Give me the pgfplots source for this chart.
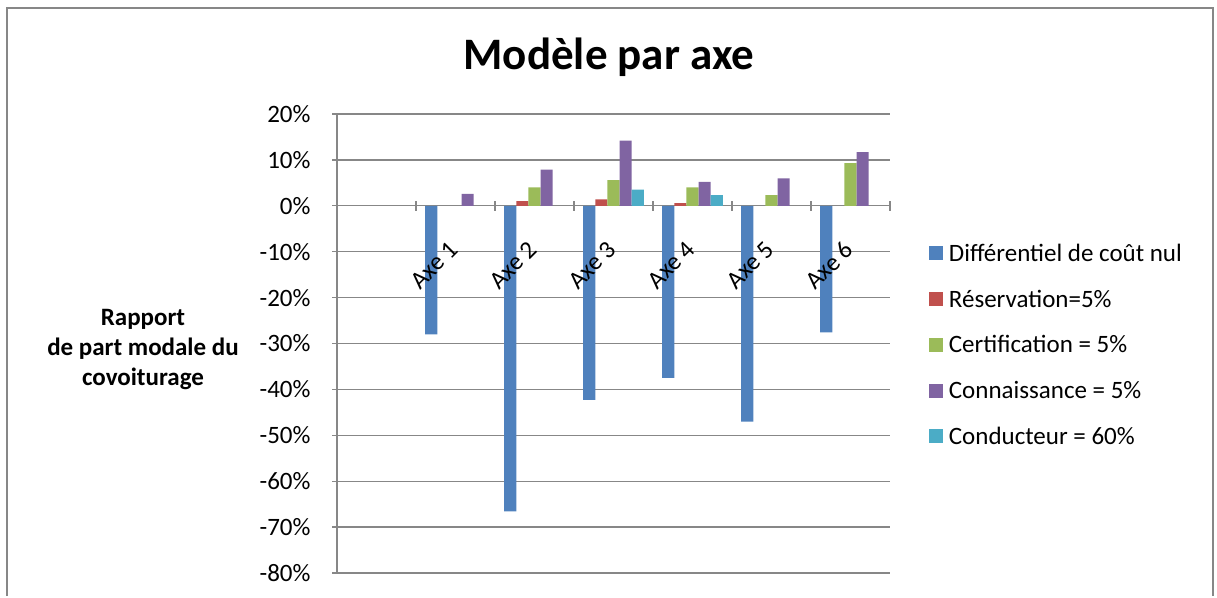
\documentclass[border=0pt]{standalone}
\usepackage{fontspec}
\setmainfont{Carlito}
\usepackage{pgfplots}
\pgfplotsset{compat=1.18}
\definecolor{c1}{HTML}{4F81BD}
\definecolor{c2}{HTML}{C0504D}
\definecolor{c3}{HTML}{9BBB59}
\definecolor{c4}{HTML}{8064A2}
\definecolor{c5}{HTML}{4BACC6}
\definecolor{gridc}{HTML}{878787}
\pgfplotsset{
  common/.style={
    at={(337pt,23pt)}, anchor=south west,
    scale only axis, width=553pt, height=459pt,
    xmin=-0.5, xmax=6.5, ymin=-80, ymax=20,
    tick align=outside, major tick length=10pt,
    /pgf/number format/assume math mode=true,
    ticklabel style={font=\fontsize{25}{30}\selectfont},
  },
}
\begin{document}
\begin{tikzpicture}[x=1pt,y=1pt]
\path (0,0) rectangle (1217,596);
\draw[gridc, line width=2pt] (7,0) -- (7,588) -- (1213,588) -- (1213,0);
\node[font=\bfseries\fontsize{45}{54}\selectfont, anchor=base] at (609,526) {Modèle par axe};
\node[font=\bfseries\fontsize{25}{30}\selectfont, align=center] at (143,246) {Rapport\\de part modale du\\covoiturage};
% background axis: grid, y axis, zero line with category ticks
\begin{axis}[
  common,
  axis x line=middle, axis y line=left,
  axis line style={-, gridc, line width=1.3pt},
  ytick={-80,-70,...,20},
  ymajorgrids, grid style={gridc, line width=1.3pt},
  tick style={gridc, line width=1.3pt},
  yticklabel={\pgfmathprintnumber{\tick}\%},
  yticklabel style={xshift=-18pt},
  xtick={-0.5,0.5,1.5,2.5,3.5,4.5,5.5,6.5},
  xticklabels={},
]
\end{axis}
% foreground axis: bars, category labels, legend
\begin{axis}[
  common,
  axis on top,
  axis x line=middle, axis y line=left,
  axis line style={draw=none},
  ytick=\empty,
  xtick={1,...,6},
  xticklabels={Axe 1,Axe 2,Axe 3,Axe 4,Axe 5,Axe 6},
  xtick style={draw=none},
  xticklabel style={inner sep=0pt, xshift=-1.5pt, yshift=-29.5pt, rotate=45, anchor=east},
  ybar=0pt, bar width=12.15pt,
  legend style={at={(rel axis cs:1.070,0.497)}, anchor=west, draw=none, fill=none,
    inner sep=0pt, row sep=23pt, font=\fontsize{25}{30}\selectfont, cells={anchor=west},
    /tikz/every odd column/.append style={column sep=4pt}},
  legend image code/.code={\fill[#1] (0pt,-7pt) rectangle (14pt,7pt);},
]
\addplot[fill=c1, draw=none] coordinates {(1,-28.0) (2,-66.6) (3,-42.3) (4,-37.5) (5,-47.0) (6,-27.6)};
\addplot[fill=c2, draw=none] coordinates {(2,1.0) (3,1.4) (4,0.6)};
\addplot[fill=c3, draw=none] coordinates {(2,4.0) (3,5.6) (4,4.0) (5,2.3) (6,9.3)};
\addplot[fill=c4, draw=none] coordinates {(1,2.6) (2,7.9) (3,14.2) (4,5.2) (5,6.0) (6,11.7)};
\addplot[fill=c5, draw=none] coordinates {(3,3.5) (4,2.3)};
\legend{Différentiel de coût nul, Réservation=5\%, Certification = 5\%, Connaissance = 5\%, Conducteur = 60\%}
\end{axis}
\end{tikzpicture}
\end{document}
